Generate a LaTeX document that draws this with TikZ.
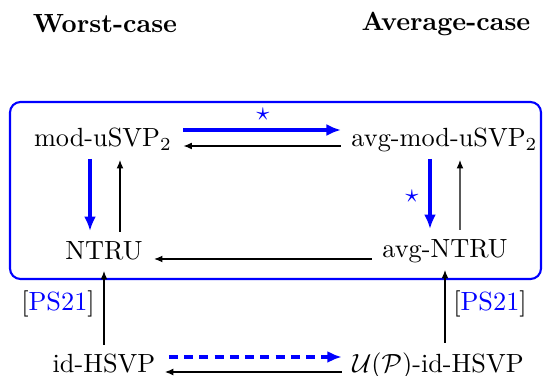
\documentclass[tikz,border=0pt]{standalone}
\usetikzlibrary{arrows.meta,calc}
\begin{document}
\begin{tikzpicture}[x=0.3802pt,y=-0.3802pt,
  lbl/.style={inner sep=0pt,anchor=base},
  ttl/.style={inner sep=0pt,anchor=base,font=\bfseries},
  blk/.style={-{Latex[length=3.2pt,width=2.6pt]},line width=0.45pt},
  blu/.style={blue,-{Latex[length=5.5pt,width=4.6pt]},line width=1.25pt},
  bludash/.style={blu,dash pattern=on 3.4pt off 2.4pt},
  frame/.style={blue,line width=0.8pt,rounded corners=4pt},
  ref/.style={inner sep=0pt,anchor=base}]
\useasboundingbox (0,0) rectangle (543,376);
\node[ttl] (wc) at (105,33) {Worst-case};
\node[ttl] (ac) at (446,31) {Average-case};
\draw[frame] (10,102) rectangle (541,279);
\node[lbl] (m) at (103,147) {mod-uSVP$_2$};
\node[lbl] (am) at (444.5,147) {avg-mod-uSVP$_2$};
\node[lbl] (n) at (104,260) {NTRU};
\node[lbl] (an) at (445,258) {avg-NTRU};
\node[lbl] (h) at (104,373) {id-HSVP};
\node[lbl] (uh) at (438,373) {$\mathcal{U}(\mathcal{P})$-id-HSVP};
% top horizontal
\draw[blu] ($(m.base east)+(11,-17)$) -- ($(am.base west)+(-10,-17)$);
\draw[blk] ($(am.base west)+(-10,-1)$) -- ($(m.base east)+(11,-1)$);
\node[blue,inner sep=0pt] (s1) at (263,114) {$\star$};
% left vertical
\draw[blu] ($(m.base)+(-13,12)$) -- ($(n.base)+(-14,-29)$);
\draw[blk] ($(n.base)+(16,-28)$) -- ($(m.base)+(17,13)$);
% right vertical
\draw[blu] ($(am.base)+(-14.5,12)$) -- ($(an.base)+(-15,-29)$);
\draw[blk] ($(an.base)+(15,-28)$) -- ($(am.base)+(15.5,13)$);
\node[blue,inner sep=0pt] (s2) at (412,196) {$\star$};
% bottom of frame
\draw[blk] ($(an.base west)+(-10,1)$) -- ($(n.base east)+(11,-1)$);
% from bottom row
\draw[blk] ($(h.base)+(0,-28)$) -- ($(n.base)+(0,11)$);
\draw[blk] ($(uh.base -| an.base)+(0,-30)$) -- ($(an.base)+(0,12)$);
\node[ref] (p1) at (58,311) {[\textcolor{blue}{PS21}]};
\node[ref] (p2) at (490,311) {[\textcolor{blue}{PS21}]};
% bottom horizontal
\draw[bludash] ($(h.base east)+(13,-16)$) -- ($(uh.base west)+(-10,-16)$);
\draw[blk] ($(uh.base west)+(-10,-1)$) -- ($(h.base east)+(9,-1)$);
\end{tikzpicture}
\end{document}
